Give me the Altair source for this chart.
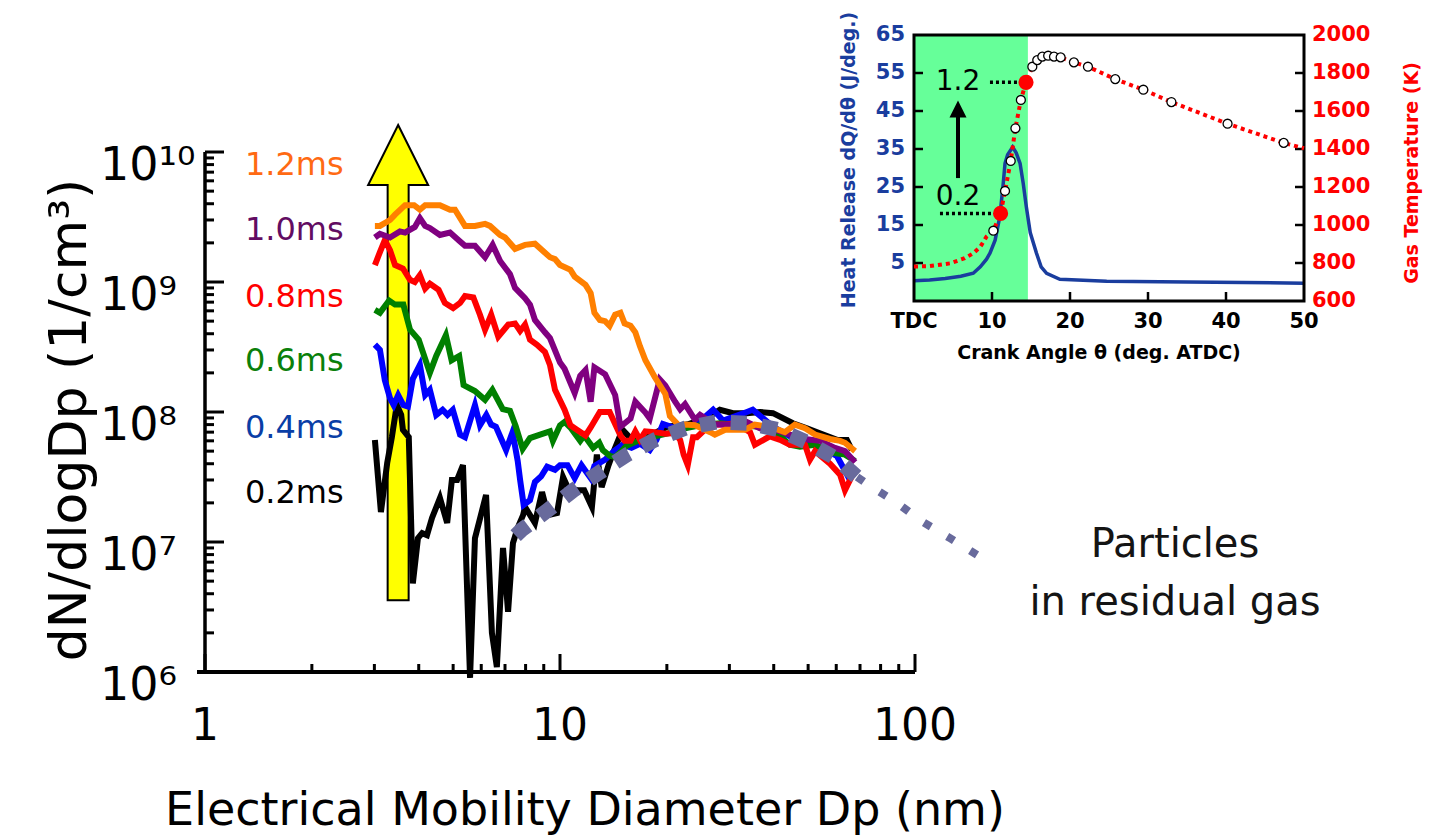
import altair as alt
import pandas as pd

FONT = "DejaVu Sans"

# ---------------- size distributions: (Dp nm, dN/dlogDp 1/cm^3) ----------------
s_02ms = [(3.01, 6.1e7), (3.13, 1.7e7), (3.26, 4.05e7), (3.36, 6.4e7), (3.47, 1.13e8), (3.57, 9.5e7),
          (3.61, 7.3e7), (3.75, 6.4e7), (3.85, 4.8e6), (3.98, 1.07e7), (4.09, 1.17e7), (4.22, 1.13e7),
          (4.36, 1.53e7), (4.59, 2.18e7), (4.81, 1.4e7), (4.96, 3.0e7), (5.13, 3.0e7), (5.33, 3.9e7),
          (5.58, 9.0e5), (5.76, 1.07e7), (6.19, 2.3e7), (6.43, 2.0e6), (6.64, 1.09e6), (6.91, 9.0e6),
          (7.14, 2.9e6), (7.37, 9.8e6), (7.61, 1.3e7), (7.87, 1.61e7), (7.97, 1.86e7), (8.50, 1.4e7),
          (8.90, 2.42e7), (9.25, 1.61e7), (9.81, 1.67e7), (10.2, 3.16e7), (10.5, 2.65e7), (11.2, 2.5e7),
          (11.7, 2.5e7), (12.3, 1.86e7), (12.7, 4.7e7), (13.1, 2.65e7), (13.7, 3.9e7), (14.1, 4.84e7),
          (15.0, 7.3e7), (15.95, 6.1e7), (17.6, 6.4e7), (20.0, 7.7e7), (22.8, 8.0e7), (25.9, 9.0e7),
          (28.2, 1.04e8), (30.7, 9.8e7), (33.6, 9.8e7), (36.6, 1.0e8), (39.8, 9.8e7), (45.3, 8.2e7),
          (49.6, 7.5e7), (55.1, 6.7e7), (60.3, 6.1e7), (64.3, 6.1e7), (66.4, 5.1e7)]

s_04ms = [(3.01, 3.3e8), (3.11, 3.0e8), (3.21, 1.76e8), (3.32, 1.28e8), (3.40, 1.13e8), (3.50, 1.35e8),
          (3.62, 1.13e8), (3.73, 1.1e8), (3.85, 1.8e8), (4.03, 2.3e8), (4.17, 1.35e8), (4.30, 1.48e8),
          (4.48, 9.5e7), (4.67, 1.04e8), (4.82, 9.5e7), (4.99, 1.04e8), (5.23, 6.7e7), (5.40, 6.4e7),
          (5.76, 1.13e8), (5.95, 7.9e7), (6.2, 9.5e7), (6.4, 8.0e7), (6.6, 7.7e7), (7.05, 5.1e7),
          (7.35, 7.0e7), (7.6, 4.2e7), (7.72, 3.0e7), (7.9, 1.93e7), (8.23, 2.1e7), (8.5, 2.9e7),
          (8.85, 3.2e7), (9.2, 3.8e7), (9.68, 3.6e7), (10.0, 3.9e7), (10.5, 3.9e7), (11.0, 3.1e7),
          (11.5, 3.9e7), (12.2, 3.1e7), (12.5, 3.85e7), (13.4, 4.3e7), (14.2, 5.0e7), (15.0, 5.6e7),
          (15.9, 5.3e7), (16.8, 5.7e7), (17.9, 5.1e7), (18.7, 6.1e7), (19.5, 8.1e7), (20.6, 7.7e7),
          (21.8, 7.3e7), (24.3, 8.1e7), (27.0, 1.04e8), (28.8, 8.6e7), (33.6, 1.0e8), (34.9, 1.04e8),
          (39.9, 7.7e7), (45.3, 6.3e7), (51.5, 5.7e7), (60.2, 4.6e7), (65.6, 3.0e7)]

s_06ms = [(3.01, 6.1e8), (3.11, 5.8e8), (3.30, 7.2e8), (3.43, 6.7e8), (3.62, 6.7e8), (3.78, 4.3e8),
          (4.0, 3.6e8), (4.30, 2.0e8), (4.48, 2.7e8), (4.77, 3.9e8), (4.95, 2.5e8), (5.2, 2.7e8),
          (5.35, 1.61e8), (5.76, 1.45e8), (6.15, 1.24e8), (6.45, 1.48e8), (6.9, 1.05e8), (7.23, 1.02e8),
          (7.5, 7.8e7), (7.85, 5.2e7), (8.23, 6.3e7), (8.79, 6.7e7), (9.37, 7.1e7), (9.55, 6.0e7),
          (10.0, 7.9e7), (10.3, 8.4e7), (10.7, 7.6e7), (11.4, 6.0e7), (11.7, 6.6e7), (12.4, 5.3e7),
          (12.9, 5.8e7), (13.2, 5.1e7), (13.8, 4.6e7), (14.3, 4.5e7), (14.8, 4.9e7), (15.4, 5.5e7),
          (16.8, 6.1e7), (18.5, 6.5e7), (20.4, 6.9e7), (22.5, 7.5e7), (24.8, 7.9e7), (28.2, 8.2e7),
          (32.2, 7.9e7), (36.6, 7.7e7), (40.3, 7.1e7), (44.4, 5.6e7), (47.4, 5.4e7), (52.3, 5.6e7),
          (57.6, 4.9e7), (63.5, 4.7e7), (67.8, 4.2e7)]

s_08ms = [(3.01, 1.35e9), (3.11, 1.7e9), (3.21, 2.1e9), (3.32, 1.76e9), (3.43, 1.35e9), (3.61, 1.27e9),
          (3.78, 1.04e9), (3.90, 1.0e9), (4.03, 1.13e9), (4.17, 8.9e8), (4.30, 9.7e8), (4.55, 8.7e8),
          (4.74, 6.9e8), (5.0, 6.3e8), (5.23, 6.9e8), (5.40, 7.8e8), (5.70, 7.6e8), (5.95, 5.6e8),
          (6.15, 4.3e8), (6.4, 5.6e8), (6.7, 3.8e8), (7.15, 4.7e8), (7.47, 4.8e8), (7.72, 4.2e8),
          (7.97, 4.7e8), (8.23, 3.6e8), (8.6, 3.3e8), (9.07, 2.9e8), (9.37, 2.3e8), (9.68, 1.48e8),
          (10.3, 1.04e8), (10.7, 7.9e7), (11.0, 7.5e7), (11.8, 6.6e7), (12.2, 7.6e7), (12.95, 1.0e8),
          (13.8, 1.0e8), (14.3, 8.1e7), (14.8, 6.6e7), (15.2, 6.0e7), (15.8, 6.0e7), (16.3, 7.1e7),
          (16.8, 6.1e7), (17.4, 7.1e7), (18.5, 7.0e7), (19.8, 6.8e7), (21.1, 6.9e7), (21.8, 6.1e7),
          (22.3, 4.7e7), (22.9, 3.9e7), (23.7, 6.4e7), (24.3, 6.4e7), (26.5, 8.0e7), (29.2, 8.0e7),
          (31.1, 8.2e7), (34.3, 7.0e7), (35.4, 5.6e7), (39.0, 6.5e7), (41.7, 6.1e7), (44.4, 5.6e7),
          (49.0, 5.6e7), (50.6, 4.3e7), (52.3, 5.0e7), (57.6, 4.0e7), (61.5, 3.3e7), (63.5, 2.5e7),
          (65.6, 3.0e7), (67.8, 3.6e7)]

s_10ms = [(3.01, 2.2e9), (3.11, 2.35e9), (3.32, 2.2e9), (3.54, 2.45e9), (3.66, 2.4e9), (3.90, 2.65e9),
          (4.03, 3.1e9), (4.17, 2.7e9), (4.30, 2.6e9), (4.59, 2.3e9), (4.90, 2.4e9), (5.23, 2.05e9),
          (5.40, 1.9e9), (5.76, 1.9e9), (6.15, 1.55e9), (6.46, 1.93e9), (6.78, 1.45e9), (7.23, 1.15e9),
          (7.47, 9.0e8), (7.97, 7.5e8), (8.23, 6.7e8), (8.50, 5.1e8), (9.07, 4.1e8), (9.37, 3.7e8),
          (10.0, 2.4e8), (10.3, 2.15e8), (11.0, 1.4e8), (11.4, 1.9e8), (11.8, 2.1e8), (12.2, 1.2e8),
          (12.5, 2.2e8), (13.4, 1.95e8), (14.3, 1.35e8), (14.8, 7.7e7), (15.8, 8.9e7), (16.3, 1.2e8),
          (17.4, 9.9e7), (17.9, 8.9e7), (19.1, 1.78e8), (19.8, 1.6e8), (21.1, 1.2e8), (21.8, 1.05e8),
          (22.5, 1.15e8), (24.0, 8.7e7), (24.8, 9.5e7), (27.3, 8.0e7), (30.1, 8.0e7), (33.2, 8.5e7),
          (36.6, 7.5e7), (40.3, 7.3e7), (44.4, 6.7e7), (49.0, 6.2e7), (54.0, 6.0e7), (59.5, 5.3e7),
          (63.5, 5.0e7), (67.8, 4.1e7)]

s_12ms = [(3.01, 2.7e9), (3.11, 2.7e9), (3.32, 3.0e9), (3.43, 3.3e9), (3.66, 3.9e9), (3.88, 3.9e9),
          (4.03, 3.6e9), (4.17, 3.9e9), (4.59, 3.9e9), (4.90, 3.6e9), (5.06, 3.6e9), (5.40, 2.7e9),
          (5.76, 2.7e9), (6.15, 2.8e9), (6.35, 2.7e9), (6.78, 2.3e9), (7.00, 2.2e9), (7.47, 1.8e9),
          (7.97, 1.93e9), (8.50, 1.97e9), (9.37, 1.55e9), (9.68, 1.5e9), (10.0, 1.35e9), (10.7, 1.24e9),
          (11.0, 1.1e9), (11.8, 9.5e8), (12.2, 8.2e8), (12.5, 5.8e8), (12.95, 5.1e8), (13.4, 5.0e8),
          (13.8, 4.6e8), (14.3, 5.6e8), (14.8, 5.8e8), (15.2, 4.8e8), (15.8, 4.6e8), (16.3, 4.1e8),
          (16.8, 3.2e8), (17.4, 2.5e8), (18.5, 1.85e8), (19.8, 1.38e8), (20.4, 9.3e7), (21.8, 7.7e7),
          (22.5, 8.0e7), (24.0, 7.9e7), (26.5, 7.0e7), (27.3, 6.7e7), (29.2, 7.3e7), (31.1, 7.3e7),
          (33.2, 7.3e7), (35.4, 8.0e7), (39.0, 7.7e7), (43.0, 7.0e7), (45.9, 8.0e7), (49.0, 7.5e7),
          (52.3, 6.7e7), (57.6, 6.2e7), (61.5, 6.0e7), (63.5, 5.8e7), (67.8, 5.0e7)]

# log-normal fit of the residual-gas mode, and its extension past the measured range
fit_measured = [(7.5, 1.12e7), (7.8, 1.24e7), (9.25, 1.76e7), (10.9, 2.5e7), (12.97, 3.45e7),
                (15.4, 4.67e7), (18.5, 6.1e7), (22.5, 7.5e7), (27.7, 8.4e7), (33.9, 8.2e7),
                (41.4, 7.3e7), (50.0, 5.8e7), (60.3, 4.35e7), (68.7, 3.16e7)]
fit_extended = [(68.7, 3.16e7), (74.7, 2.7e7), (89.0, 2.0e7), (105.0, 1.43e7), (125.5, 1.07e7),
                (152.5, 7.7e6)]

series_order = ["0.2ms", "0.4ms", "0.6ms", "0.8ms", "1.0ms", "1.2ms"]
series_data = [s_02ms, s_04ms, s_06ms, s_08ms, s_10ms, s_12ms]
line_colors = ["#000000", "#0000ff", "#008000", "#ff0000", "#800080", "#ff8000"]

ms_labels = ["1.2ms", "1.0ms", "0.8ms", "0.6ms", "0.4ms", "0.2ms"]
ms_label_n = [8.0e9, 2.5e9, 7.7e8, 2.45e8, 7.5e7, 2.4e7]
ms_label_colors = ["#ff6a13", "#620c62", "#ff0000", "#0a800a", "#0a3ea6", "#000000"]

# axis ticks and their labels
y_major = [1e6, 1e7, 1e8, 1e9, 1e10]
y_major_text = ["10⁶", "10⁷", "10⁸", "10⁹", "10¹⁰"]
y_minor = [k * 10 ** d for d in range(6, 10) for k in range(2, 10)]
x_major = [1, 10, 100]
x_major_text = ["1", "10", "100"]
x_minor = [k * 10 ** d for d in range(0, 2) for k in range(2, 10)]

# ---------------- inset: heat release rate and gas temperature ----------------
hr_ca = [0, 2, 4, 6, 7.6, 8.5, 9.3, 9.74, 10.4, 11.0, 11.4, 11.67, 12.0, 12.65, 13.1, 13.6,
         14.0, 14.4, 14.9, 15.7, 16.3, 17.0, 18.7, 24.7, 35, 50]
hr_q = [0.3, 0.5, 0.9, 1.5, 2.3, 4.0, 6.0, 7.6, 11.0, 17.2, 25.0, 31.2, 33.5, 35.5, 34.0, 31.2,
        26.0, 19.8, 13.0, 7.6, 4.0, 2.3, 0.7, 0.2, 0.0, -0.3]

gt_ca = [0, 2, 4.6, 6.5, 7.6, 8.5, 9.3, 10.17, 11.1, 11.67, 12.4, 13.0, 13.7, 14.36, 15.17, 15.8,
         16.45, 17.2, 17.95, 18.8, 20.5, 22.3, 25.8, 29.4, 33.0, 40.2, 47.4, 50]
gt_k = [781, 784, 798, 825, 851, 885, 939, 970, 1061, 1179, 1337, 1509, 1658, 1751, 1833, 1868,
        1886, 1891, 1886, 1882, 1856, 1833, 1768, 1712, 1647, 1533, 1432, 1404]

marker_ca = [10.17, 11.67, 12.4, 13.0, 13.7, 15.17, 15.8, 16.45, 17.2, 17.95, 18.8, 20.5, 22.3,
             25.8, 29.4, 33.0, 40.2, 47.4]
marker_k = [970, 1179, 1337, 1509, 1658, 1833, 1868, 1886, 1891, 1886, 1882, 1856, 1833, 1768,
            1712, 1647, 1533, 1432]

sample_ca = [11.1, 14.36]
sample_k = [1061, 1751]
sample_text = ["0.2", "1.2"]
sample_text_k = [1150, 1754]
leader_start = [3.33, 9.74]
leader_end = [10.2, 13.4]

ca_ticks = [0, 10, 20, 30, 40, 50]
ca_tick_text = ["TDC", "10", "20", "30", "40", "50"]
hr_ticks = [5, 15, 25, 35, 45, 55, 65]
gt_ticks = [600, 800, 1000, 1200, 1400, 1600, 1800, 2000]

# ---------------- scales (shared plot area: 1099 x 637 px) ----------------
x_main = alt.Scale(type="log", domain=[1, 100], range=[0, 710], nice=False)
y_main = alt.Scale(type="log", domain=[1e6, 1e10], range=[637, 117], nice=False)
x_ins = alt.Scale(domain=[0, 50], range=[709, 1099], nice=False, zero=False)
y_hr = alt.Scale(domain=[-5, 65], range=[266, 0], nice=False, zero=False)
y_gt = alt.Scale(domain=[600, 2000], range=[266, 0], nice=False, zero=False)

HR_BLUE = "#1a3d9e"


def mx(field):
    return alt.X(field, scale=x_main, axis=None)


def my(field):
    return alt.Y(field, scale=y_main, axis=None)


def ix(field):
    return alt.X(field, scale=x_ins, axis=None)


def iy_hr(field):
    return alt.Y(field, scale=y_hr, axis=None)


def iy_gt(field):
    return alt.Y(field, scale=y_gt, axis=None)


# ---------------- main panel ----------------
ARROW_PATH = "M0,-7.92L1,-5.92L0.35,-5.92L0.35,7.92L-0.35,7.92L-0.35,-5.92L-1,-5.92Z"
arrow = alt.Chart(pd.DataFrame({"dp": [3.50], "n": [2.4e8]})).mark_point(
    shape=ARROW_PATH, size=3600, filled=True, fill="#ffff00", stroke="black",
    strokeWidth=2, opacity=1).encode(x=mx("dp:Q"), y=my("n:Q"))

series_layers = []
for name, pts, col in zip(series_order, series_data, line_colors):
    df = pd.DataFrame(pts, columns=["dp", "n"])
    series_layers.append(
        alt.Chart(df).mark_line(color=col, strokeWidth=6).encode(x=mx("dp:Q"), y=my("n:Q")))

fit_a = alt.Chart(pd.DataFrame(fit_measured, columns=["dp", "n"])).mark_line(
    color="#686a9c", strokeWidth=15, strokeDash=[16, 15], strokeCap="butt").encode(
    x=mx("dp:Q"), y=my("n:Q"))
fit_b = alt.Chart(pd.DataFrame(fit_extended, columns=["dp", "n"])).mark_line(
    color="#686a9c", strokeWidth=8, strokeDash=[8, 19], strokeCap="butt").encode(
    x=mx("dp:Q"), y=my("n:Q"))

ms_df = pd.DataFrame({"t": ms_labels, "n": ms_label_n, "dp": 1.296})
ms_text = alt.Chart(ms_df).mark_text(
    font=FONT, fontSize=32, align="left", baseline="middle").encode(
    x=mx("dp:Q"), y=my("n:Q"), text="t:N",
    color=alt.Color("t:N", scale=alt.Scale(domain=ms_labels, range=ms_label_colors), legend=None))

note_df = pd.DataFrame({"t": ["Particles", "in residual gas"], "n": [9.5e6, 3.4e6], "dp": 540})
note_text = alt.Chart(note_df).mark_text(
    font=FONT, fontSize=40, align="center", baseline="middle", color="#141414").encode(
    x=mx("dp:Q"), y=my("n:Q"), text="t:N")

# axis lines
y_axis_line = alt.Chart(pd.DataFrame({"x0": [1], "y0": [1e6], "y1": [1e10]})).mark_rule(
    color="black", strokeWidth=3.5).encode(x=mx("x0:Q"), y=my("y0:Q"), y2="y1:Q")
x_axis_line = alt.Chart(pd.DataFrame({"y0": [1e6], "x0": [1], "x1": [100]})).mark_rule(
    color="black", strokeWidth=4, xOffset=-8).encode(y=my("y0:Q"), x=mx("x0:Q"), x2="x1:Q")


def y_tick_rules(vals, length):
    df = pd.DataFrame({"v": vals, "x0": 1})
    return alt.Chart(df).mark_rule(color="black", strokeWidth=3, x2Offset=length).encode(
        y=my("v:Q"), x=mx("x0:Q"), x2="x0:Q")


def x_tick_rules(vals, length):
    df = pd.DataFrame({"v": vals, "y0": 1e6})
    return alt.Chart(df).mark_rule(color="black", strokeWidth=3, y2Offset=-length).encode(
        x=mx("v:Q"), y=my("y0:Q"), y2="y0:Q")


y_tick_labels = alt.Chart(pd.DataFrame({"v": y_major, "t": y_major_text, "x0": 1})).mark_text(
    font=FONT, fontSize=46, align="left", baseline="alphabetic", dx=-105, dy=28,
    color="black").encode(x=mx("x0:Q"), y=my("v:Q"), text="t:N")
x_tick_labels = alt.Chart(pd.DataFrame({"v": x_major, "t": x_major_text, "y0": 1e6})).mark_text(
    font=FONT, fontSize=44, align="center", baseline="alphabetic", dy=68,
    color="black").encode(x=mx("v:Q"), y=my("y0:Q"), text="t:N")

y_title = alt.Chart(pd.DataFrame({"t": ["dN/dlogDp (1/cm³)"]})).mark_text(
    font=FONT, fontSize=52, align="center", baseline="middle", angle=270, color="black").encode(
    x=alt.value(-135), y=alt.value(385), text="t:N")
x_title = alt.Chart(pd.DataFrame({"t": ["Electrical Mobility Diameter Dp (nm)"]})).mark_text(
    font=FONT, fontSize=46, align="center", baseline="middle", color="black").encode(
    x=alt.value(380), y=alt.value(776), text="t:N")

main = alt.layer(
    arrow, *series_layers, fit_a, fit_b, ms_text, note_text,
    y_axis_line, x_axis_line,
    y_tick_rules(y_major, 19), y_tick_rules(y_minor, 9),
    x_tick_rules(x_major, 18), x_tick_rules(x_minor, 8),
    y_tick_labels, x_tick_labels, y_title, x_title)

# ---------------- inset: heat release (left axis) ----------------
box = pd.DataFrame({"x0": [0], "x1": [50], "y0": [-5], "y1": [65]})
combustion = pd.DataFrame({"x0": [0], "x1": [14.6], "y0": [-5], "y1": [65]})

green_band = alt.Chart(combustion).mark_rect(color="#66ff99").encode(
    x=ix("x0:Q"), x2="x1:Q", y=iy_hr("y0:Q"), y2="y1:Q")

hr_line = alt.Chart(pd.DataFrame({"ca": hr_ca, "q": hr_q})).mark_line(
    color=HR_BLUE, strokeWidth=3.5).encode(x=ix("ca:Q"), y=iy_hr("q:Q"))

frame = alt.Chart(box).mark_rect(fillOpacity=0, stroke="black", strokeWidth=3).encode(
    x=ix("x0:Q"), x2="x1:Q", y=iy_hr("y0:Q"), y2="y1:Q")

side_ticks = [5, 15, 25, 35, 45, 55]
left_ticks = alt.Chart(pd.DataFrame({"v": side_ticks, "x0": 0})).mark_rule(
    color="black", strokeWidth=2.5, x2Offset=9).encode(y=iy_hr("v:Q"), x=ix("x0:Q"), x2="x0:Q")
right_ticks = alt.Chart(pd.DataFrame({"v": side_ticks, "x0": 50})).mark_rule(
    color="black", strokeWidth=2.5, x2Offset=-9).encode(y=iy_hr("v:Q"), x=ix("x0:Q"), x2="x0:Q")
bottom_ticks = alt.Chart(pd.DataFrame({"v": [10, 20, 30, 40], "y0": -5})).mark_rule(
    color="black", strokeWidth=2.5, y2Offset=-9).encode(x=ix("v:Q"), y=iy_hr("y0:Q"), y2="y0:Q")

hr_tick_labels = alt.Chart(pd.DataFrame({"v": hr_ticks, "x0": 0})).mark_text(
    font=FONT, fontSize=21, fontWeight="bold", align="right", baseline="middle", dx=-9,
    color=HR_BLUE).encode(x=ix("x0:Q"), y=iy_hr("v:Q"), text="v:Q")
ca_tick_labels = alt.Chart(pd.DataFrame({"v": ca_ticks, "t": ca_tick_text, "y0": -5})).mark_text(
    font=FONT, fontSize=21, fontWeight="bold", align="center", baseline="middle", dy=21,
    color="black").encode(x=ix("v:Q"), y=iy_hr("y0:Q"), text="t:N")

hr_title = alt.Chart(pd.DataFrame({"t": ["Heat Release dQ/dθ  (J/deg.)"]})).mark_text(
    font=FONT, fontSize=19, fontWeight="bold", align="center", baseline="middle", angle=270,
    color=HR_BLUE).encode(x=alt.value(644), y=alt.value(125), text="t:N")
ca_title = alt.Chart(pd.DataFrame({"t": ["Crank Angle θ  (deg. ATDC)"]})).mark_text(
    font=FONT, fontSize=19, fontWeight="bold", align="center", baseline="middle",
    color="black").encode(x=alt.value(894), y=alt.value(318), text="t:N")

inset_hr = alt.layer(green_band, hr_line, frame, left_ticks, right_ticks, bottom_ticks,
                     hr_tick_labels, ca_tick_labels, hr_title, ca_title)

# ---------------- inset: gas temperature (right axis) ----------------
gt_line = alt.Chart(pd.DataFrame({"ca": gt_ca, "k": gt_k})).mark_line(
    color="#ff0000", strokeWidth=4, strokeDash=[4, 4]).encode(x=ix("ca:Q"), y=iy_gt("k:Q"))

gt_markers = alt.Chart(pd.DataFrame({"ca": marker_ca, "k": marker_k})).mark_point(
    shape="circle", filled=True, fill="white", stroke="black", strokeWidth=1.3,
    size=80, opacity=1).encode(x=ix("ca:Q"), y=iy_gt("k:Q"))

samples = alt.Chart(pd.DataFrame({"ca": sample_ca, "k": sample_k})).mark_circle(
    color="#ff0000", size=230, opacity=1).encode(x=ix("ca:Q"), y=iy_gt("k:Q"))

leaders = alt.Chart(pd.DataFrame({"x0": leader_start, "x1": leader_end, "k": sample_k})).mark_rule(
    color="black", strokeWidth=3.5, strokeDash=[3, 3]).encode(x=ix("x0:Q"), x2="x1:Q", y=iy_gt("k:Q"))

sample_labels = alt.Chart(pd.DataFrame({"t": sample_text, "k": sample_text_k, "ca": 5.64})).mark_text(
    font=FONT, fontSize=28, align="center", baseline="middle", color="black").encode(
    x=ix("ca:Q"), y=iy_gt("k:Q"), text="t:N")

shaft = alt.Chart(pd.DataFrame({"ca": [5.64], "k0": [1247], "k1": [1575]})).mark_rule(
    color="black", strokeWidth=4).encode(x=ix("ca:Q"), y=iy_gt("k0:Q"), y2="k1:Q")
head = alt.Chart(pd.DataFrame({"ca": [5.64], "k": [1610]})).mark_point(
    shape="M0,-1L1,1L-1,1Z", size=289, filled=True, color="black", opacity=1).encode(
    x=ix("ca:Q"), y=iy_gt("k:Q"))

gt_tick_labels = alt.Chart(pd.DataFrame({"v": gt_ticks, "x0": 50})).mark_text(
    font=FONT, fontSize=21, fontWeight="bold", align="left", baseline="middle", dx=8,
    color="#ff0000").encode(x=ix("x0:Q"), y=iy_gt("v:Q"), text="v:Q")
gt_title = alt.Chart(pd.DataFrame({"t": ["Gas Temperature (K)"]})).mark_text(
    font=FONT, fontSize=19, fontWeight="bold", align="center", baseline="middle", angle=270,
    color="#ff0000").encode(x=alt.value(1207), y=alt.value(138), text="t:N")

inset_gt = alt.layer(gt_line, gt_markers, samples, leaders, sample_labels, shaft, head,
                     gt_tick_labels, gt_title)

chart = alt.layer(main, inset_hr, inset_gt).resolve_scale(
    x="independent", y="independent"
).properties(
    width=1099, height=637,
    padding={"left": 205, "top": 35, "right": 125, "bottom": 167},
    autosize=alt.AutoSizeParams(type="none"),
    background="white",
).configure_view(strokeWidth=0)

chart.save("out.html", embed_options={"renderer": "svg", "actions": False})
